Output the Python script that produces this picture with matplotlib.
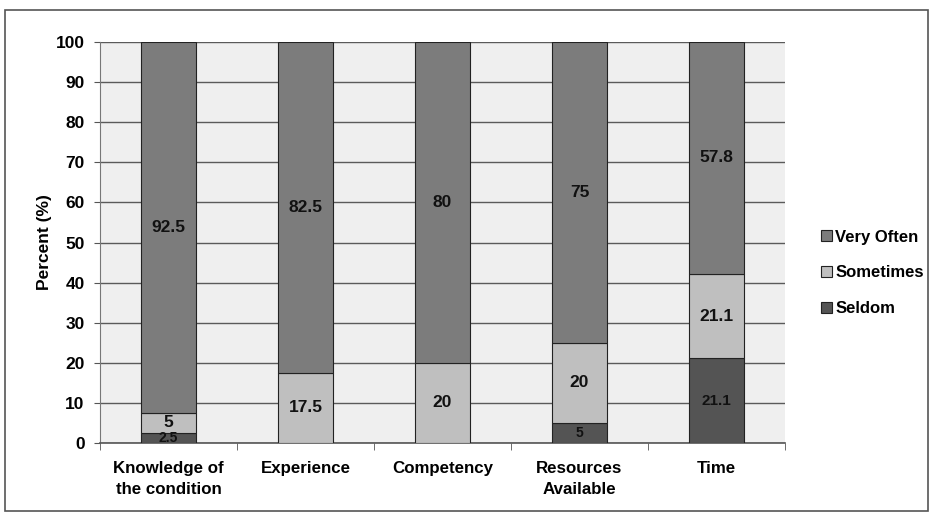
import matplotlib
matplotlib.use("Agg")
import matplotlib.pyplot as plt
import numpy as np
from matplotlib.patches import Rectangle

categories = ["Knowledge of\nthe condition", "Experience", "Competency", "Resources\nAvailable", "Time"]
seldom = [2.5, 0, 0, 5, 21.1]
sometimes = [5, 17.5, 20, 20, 21.1]
very_often = [92.5, 82.5, 80, 75, 57.8]
yticks = list(range(0, 101, 10))

plt.rcParams['font.family'] = ['Liberation Sans', 'DejaVu Sans']
plt.rcParams['font.weight'] = 'bold'

fig = plt.figure(figsize=(9.33, 5.15), dpi=100)
ax = fig.add_axes([0.1072, 0.1398, 0.7342, 0.7786])
ax.set_facecolor('#efefef')

x = np.arange(len(categories))
w = 0.40
c_seldom, c_some, c_very = '#545454', '#bfbfbf', '#7c7c7c'
ax.bar(x, seldom, w, color=c_seldom, edgecolor='#222222', linewidth=0.8, label='Seldom', zorder=3)
ax.bar(x, sometimes, w, bottom=seldom, color=c_some, edgecolor='#222222', linewidth=0.8, label='Sometimes', zorder=3)
bottoms2 = [a + b for a, b in zip(seldom, sometimes)]
ax.bar(x, very_often, w, bottom=bottoms2, color=c_very, edgecolor='#222222', linewidth=0.8, label='Very Often', zorder=3)

def fmt(v):
    return ('%g' % v)

for i in range(len(categories)):
    if seldom[i] > 0:
        ax.text(x[i], seldom[i] / 2, fmt(seldom[i]), ha='center', va='center',
                fontsize=10 if seldom[i] < 10 else 11, fontweight='bold', color='#111111', zorder=4)
    if sometimes[i] > 0:
        ax.text(x[i], seldom[i] + sometimes[i] / 2, fmt(sometimes[i]), ha='center', va='center',
                fontsize=12.5, fontweight='bold', color='#111111', zorder=4)
    ax.text(x[i], bottoms2[i] + very_often[i] / 2, fmt(very_often[i]), ha='center', va='center',
            fontsize=12.5, fontweight='bold', color='#111111', zorder=4)

ax.set_xlim(-0.5, len(categories) - 0.5)
ax.set_ylim(0, 100)
ax.set_yticks(yticks)
ax.set_yticklabels([str(t) for t in yticks], fontsize=12.5, fontweight='bold')
ax.yaxis.grid(True, color='#5a5a5a', linewidth=1.0, zorder=0)
ax.set_axisbelow(True)
ax.set_xticks(x)
ax.set_xticklabels(categories, fontsize=12.2, fontweight='bold', linespacing=1.5)
ax.tick_params(axis='x', length=0, pad=13)
ax.set_xticks(np.arange(-0.5, len(categories)), minor=True)
ax.tick_params(axis='x', which='minor', length=5, color='#555555')
ax.tick_params(axis='y', length=4, color='#555555', pad=7)
ax.set_ylabel('Percent (%)', fontsize=12.5, fontweight='bold', labelpad=3)
for s in ['top', 'right']:
    ax.spines[s].set_visible(False)
ax.spines['left'].set_color('#777777')
ax.spines['bottom'].set_color('#555555')
ax.spines['bottom'].set_linewidth(1.2)

handles, labels = ax.get_legend_handles_labels()
leg = fig.legend(handles[::-1], labels[::-1], loc='center left', bbox_to_anchor=(0.88, 0.47),
                 frameon=False, labelspacing=1.25, handlelength=0.65, handleheight=0.65,
                 handletextpad=0.2, borderaxespad=0, borderpad=0,
                 prop={'weight': 'bold', 'size': 12})

fig.patches.append(Rectangle((0.005, 0.008), 0.99, 0.972, transform=fig.transFigure,
                             fill=False, edgecolor='#555555', linewidth=1.2))

fig.savefig('out.png', dpi=100)
